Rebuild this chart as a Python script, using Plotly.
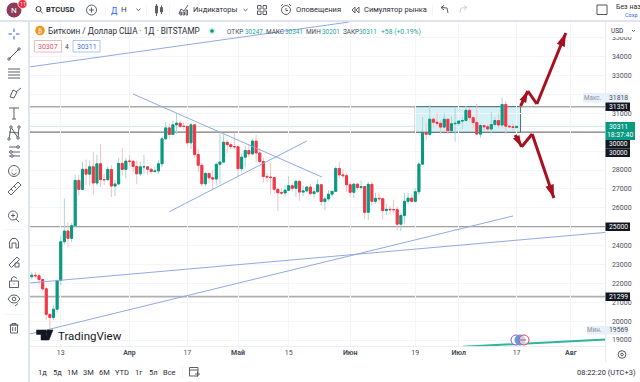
import math
import pandas as pd
import plotly.graph_objects as go

W, H = 640, 382
first_day = "2023-03-05"
open_ = [22350,22430,22400,22200,21710,20360,20190,20630,22150,24200,24770,24380,25050,27450,26970,28040,27780,28170,27310,28330,27490,27490,28030,27150,27260,28350,28030,
28470,28460,28190,27800,28170,28170,28040,27920,27950,28330,29650,30230,29880,30390,30480,30310,30310,29440,30390,28820,28250,27270,27820,27590,27520,28300,28420,29470,29340,29240,
29230,28070,28680,29030,28850,29530,28900,28450,27660,27630,27600,26980,26800,26780,26930,27170,27030,27400,26830,26890,27100,26750,26850,27220,26330,26470,26720,26870,28080,27740,27700,
27220,26820,27250,27070,27120,25760,27240,26340,26500,26480,25850,25920,25900,25900,25130,25590,26340,26510,26340,26850,28310,30000,29890,30690,30530,30470,30270,30690,30080,30450,
30470,30590,30620,31160,30770,30510,29900,30350,30290,30170,30410,30620,30380,31470,30320,30290,30247]
high = [22610,22600,22530,22270,21810,20370,20830,22200,24500,26500,25240,25200,27750,27730,28450,28550,28500,28950,28800,29380,27790,28200,28260,27500,28650,29170,28650,
28800,28530,28500,28450,28790,28190,28100,28170,28530,29770,30550,30480,30600,31000,30600,30560,30320,30480,30410,29090,28370,27880,27820,28000,28390,30020,29890,29590,29450,29970,
29340,28880,29270,29370,29680,29850,29170,28640,27830,28330,27640,27050,27040,27200,27660,27280,27480,27480,27180,27150,27280,27050,27500,27220,26600,26930,26910,28200,28450,28050,27830,
27340,27300,27320,27450,27140,27370,27400,26800,26780,26530,26200,26090,26440,26070,25740,26780,26790,26700,27040,28400,30800,30500,31430,30800,31050,30650,31000,30700,30830,31280,
30660,30800,31380,31330,30880,31510,30450,30390,30440,31060,30810,30990,31818,31640,30400,30460,30341]
low = [22210,22270,21930,21600,20050,19569,20050,20440,21910,24050,23900,24170,25000,26650,26900,27200,27170,26680,27160,27100,27200,27400,26570,26630,27200,27700,27530,
28250,27870,27250,27680,27800,27750,27780,27870,27800,28170,29600,29700,29880,29900,30230,30130,29260,29100,28650,27900,27130,27140,27350,26950,27200,27240,28380,28900,29100,29100,
27680,27880,28130,28680,28800,28420,28380,27340,27360,26720,26750,25810,26690,26580,26870,26850,26580,26370,26630,26850,26680,26540,26800,26110,25870,26340,26550,26870,27550,27570,26850,
26610,26510,26930,26960,25400,25370,26120,26210,26300,25380,25620,25640,25730,24800,24770,25170,26180,26290,26270,26670,28270,29600,29820,30270,30300,29930,30220,29900,30050,29500,
30330,30180,30570,30630,30220,29860,29700,30050,30070,29950,30300,30200,30250,29920,30250,30070,30201]
close = [22430,22400,22200,21710,20360,20190,20630,22150,24200,24770,24380,25050,27450,26970,28040,27780,28170,27310,28330,27490,27490,28030,27150,27260,28350,28030,28470,
28460,28190,27800,28170,28170,28040,27920,27950,28330,29650,30230,29880,30390,30480,30310,30310,29440,30390,28820,28250,27270,27820,27590,27520,28300,28420,29470,29340,29240,29230,
28070,28680,29030,28850,29530,28900,28450,27660,27630,27600,26980,26800,26780,26930,27170,27030,27400,26830,26890,27100,26750,26850,27220,26330,26470,26720,26870,28080,27740,27700,27220,
26820,27250,27070,27120,25760,27240,26340,26500,26480,25850,25920,25900,25900,25130,25590,26340,26510,26340,26850,28310,30000,29890,30690,30530,30470,30270,30690,30080,30450,30470,
30590,30620,31160,30770,30510,29900,30350,30290,30170,30410,30620,30380,31470,30320,30290,30250,30311]
n = min(len(open_), len(high), len(low), len(close))
open_, high, low, close = open_[:n], high[:n], low[:n], close[:n]
dates = pd.date_range(first_day, periods=n, freq="D")

price_ticks = [35000,34000,33000,32000,31000,29000,28000,27000,26000,24000,23000,22000,21000,20000,19000]
price_labels = ["35000","34000","33000","","31000","","28000","27000","26000","24000","23000","22000","21000","20000","19000"]
time_tick_dates = ["2023-03-13","2023-04-01","2023-04-17","2023-05-01","2023-05-15","2023-06-01","2023-06-19","2023-07-01","2023-07-17","2023-08-01"]
time_tick_text = ["13","<b>Апр</b>","17","<b>Май</b>","15","<b>Июн</b>","19","<b>Июл</b>","17","<b>Авг</b>"]
h_levels = [31351, 30000, 25000, 21299]
range_top, range_bottom = 31351, 30000
range_days = [106.0, 135.1]
trend_days = [[-0.77, 87.7], [27.97, 80.2], [38.0, 76.0], [-0.5, 133.0], [-0.64, 158.5]]
trend_prices = [[33453, 35835], [32023, 27629], [25792, 29535], [19318, 25565], [22018, 24696]]
teal_days, teal_prices = [119.2, 158.6], [18645, 19026]
up_days, up_prices = [135.1, 137.1, 139.6, 147.6], [31388, 32182, 31494, 35253]
down_days, down_prices = [133.6, 135.4, 138.3, 144.3], [29853, 29233, 29906, 26517]

TEAL, RED = "#089981", "#f23645"
TEAL_W, RED_W = "#a8d8d0", "#f5c0c6"
GRID = "#f3f5fa"
BAND = "#e0e3f0"
TXT = "#3a3e4a"
ICON = "#5d606b"
FONT = "Roboto"

def day(d):
    return pd.Timestamp(first_day) + pd.Timedelta(days=d)

def px(x): return x / W
def py(y): return 1 - y / H

shapes, annos = [], []

def rect(x0, y0, x1, y1, fill="rgba(0,0,0,0)", line=None, lw=1, layer="above"):
    shapes.append(dict(type="rect", xref="paper", yref="paper", x0=px(x0), x1=px(x1), y0=py(y0), y1=py(y1),
                       fillcolor=fill, line=dict(color=line or "rgba(0,0,0,0)", width=lw if line else 0), layer=layer))

def circ(cx, cy, r, fill="rgba(0,0,0,0)", line=None, lw=1):
    shapes.append(dict(type="circle", xref="paper", yref="paper", x0=px(cx-r), x1=px(cx+r), y0=py(cy-r), y1=py(cy+r),
                       fillcolor=fill, line=dict(color=line or "rgba(0,0,0,0)", width=lw if line else 0), layer="above"))

def poly(pts, color=ICON, lw=1, fill=None, close_it=False):
    p = "M " + " L ".join(f"{px(a):.5f} {py(b):.5f}" for a, b in pts) + (" Z" if close_it else "")
    shapes.append(dict(type="path", xref="paper", yref="paper", path=p, layer="above",
                       fillcolor=fill or "rgba(0,0,0,0)", line=dict(color=color, width=lw)))

def text(x, y, s, size=7.5, color=TXT, anchor="left", font=FONT):
    annos.append(dict(xref="paper", yref="paper", x=px(x), y=py(y), text=s, showarrow=False,
                      xanchor=anchor, yanchor="middle", font=dict(size=size, color=color, family=font),
                      borderpad=0, xshift=0, yshift=0))

fig = go.Figure()

# levels and range box, beneath candles
shapes.append(dict(type="rect", x0=day(range_days[0]), x1=day(range_days[1]), y0=range_bottom, y1=range_top,
                   xref="x", yref="y", fillcolor="#d6f1f6", line=dict(color="#4c6b70", width=1), layer="below"))
lvl_style = {31351: ("#ababab", 1.6), 30000: ("#7a7a7a", 1.3), 25000: ("#a0a0a0", 1.4), 21299: ("#b0b0b0", 1.8)}
for lv in h_levels:
    c, w = lvl_style[lv]
    shapes.append(dict(type="line", xref="x domain", yref="y", x0=0, x1=1, y0=lv, y1=lv, line=dict(color=c, width=w), layer="below"))
shapes.append(dict(type="line", xref="x domain", yref="y", x0=0, x1=1, y0=close[-1], y1=close[-1], line=dict(color="#cfe9e6", width=1), layer="below"))

# candles: pale wicks first, solid bodies on top
fig.add_trace(go.Candlestick(x=dates, open=open_, high=high, low=low, close=close, whiskerwidth=0,
    increasing=dict(line=dict(color=TEAL_W, width=1), fillcolor=TEAL_W),
    decreasing=dict(line=dict(color=RED_W, width=1), fillcolor=RED_W), showlegend=False, hoverinfo="skip"))
body_hi = [max(o, c) for o, c in zip(open_, close)]
body_lo = [min(o, c) for o, c in zip(open_, close)]
fig.add_trace(go.Candlestick(x=dates, open=open_, high=body_hi, low=body_lo, close=close, whiskerwidth=0,
    increasing=dict(line=dict(color=TEAL, width=1), fillcolor=TEAL),
    decreasing=dict(line=dict(color=RED, width=1), fillcolor=RED), showlegend=False, hoverinfo="skip"))

# trend lines
for ds, ps in zip(trend_days, trend_prices):
    fig.add_trace(go.Scatter(x=[day(d) for d in ds], y=ps, mode="lines", line=dict(color="#92a9e2", width=1),
                             showlegend=False, hoverinfo="skip", cliponaxis=True))
fig.add_trace(go.Scatter(x=[day(d) for d in teal_days], y=teal_prices, mode="lines", line=dict(color="#2fb49c", width=2),
                         showlegend=False, hoverinfo="skip"))
# red arrows: each leg is its own trace, legs 1 and 3 end in a head
for ds, ps in [(up_days, up_prices), (down_days, down_prices)]:
    for i in range(3):
        seg_x = [day(ds[i]), day(ds[i + 1])]
        seg_y = [ps[i], ps[i + 1]]
        fig.add_trace(go.Scatter(x=seg_x, y=seg_y, mode="lines", line=dict(color="#a8101f", width=3),
                                 showlegend=False, hoverinfo="skip"))
        if i != 1:
            fig.add_trace(go.Scatter(x=seg_x, y=seg_y, mode="markers",
                marker=dict(symbol="arrow", angleref="previous", size=[1, 12 if i == 0 else 14], color="#a8101f",
                            opacity=[0, 1], line=dict(width=0)),
                showlegend=False, hoverinfo="skip"))

# chrome: toolbars
rect(0, 0, W, 20.5, fill="white")
rect(0, 20, W, 22, fill=BAND)
rect(28, 20, 30, H, fill=BAND)
rect(0, 22, 28, H, fill="white")
rect(605.5, 346.5, W, H, fill="white")
rect(30, 362, W, H, fill="white")
rect(605, 22, 605.8, 362, fill="#e3e6ee")
rect(30, 346.3, 606, 346.9, fill="#e6e8ef")

# avatar
circ(14, 10, 7.5, fill="#8c3c58")
text(14, 10.5, "N", 8, "white", "center")
circ(22.5, 4, 4.5, fill="#f0283c", line="white", lw=0.8)
text(22.5, 4.2, "11", 5.5, "white", "center")
# search
circ(38.5, 9, 2.5, line="#333", lw=1)
poly([(40.5, 11), (42.5, 13)], "#333", 1)
text(45, 10, "<b>BTCUSD</b>", 7.5, "#2a2e39")
# plus
circ(91.5, 10, 5, line=ICON)
poly([(89, 10), (94, 10)]); poly([(91.5, 7.5), (91.5, 12.5)])
rect(105.5, 5, 106, 15, fill="#e6e8ef")
text(114, 10.5, "Д", 8.5, "#2962ff", "center")
text(123.5, 10, "Н", 8, TXT, "center")
poly([(136.5, 8.8), (138.5, 10.5), (140.5, 8.8)])
rect(146, 5, 146.5, 15, fill="#e6e8ef")
# candle icon
rect(155.5, 6, 157.5, 13, line=ICON); poly([(156.5, 4), (156.5, 16)])
rect(160.5, 7.5, 162.5, 12, line=ICON); poly([(161.5, 5.5), (161.5, 14)])
rect(169, 5, 169.5, 15, fill="#e6e8ef")
# indicator icon
poly([(179, 14), (181, 9), (184, 11), (188, 5)], ICON)
rect(180, 12, 181.5, 15, line=ICON); rect(183, 12, 184.5, 15, line=ICON); rect(186, 10, 187.5, 15, line=ICON)
text(192, 10, "Индикаторы", 7.5, "#2a2e39")
poly([(243.5, 9), (245.5, 10.8), (247.5, 9)])
for gx in (257.5, 263):
    for gy in (5.5, 11):
        rect(gx, gy, gx + 3.5, gy + 3.5, line=ICON)
# alert
circ(286, 10, 4.5, line=ICON)
poly([(281, 6), (283, 4)]); poly([(291, 6), (289, 4)]); poly([(286, 8), (286, 10.5), (288, 10.5)])
text(295, 10, "Оповещения", 7.5, "#2a2e39")
poly([(355, 7), (352, 10), (355, 13), (355, 7)], ICON); poly([(359, 7), (356, 10), (359, 13), (359, 7)], ICON)
text(363, 10, "Симулятор рынка", 7.5, "#2a2e39")
rect(432, 5, 432.5, 15, fill="#e6e8ef")
poly([(441, 7.5), (444, 5.5)], ICON); poly([(441, 7.5), (444, 10)], ICON); poly([(441, 7.5), (447, 8), (448, 13)], ICON)
poly([(467, 7.5), (464, 5.5)], "#d0d3da"); poly([(467, 7.5), (464, 10)], "#d0d3da"); poly([(467, 7.5), (461, 8), (460, 13)], "#d0d3da")
rect(597, 5, 607, 14.5, line="#555", lw=1)
text(614.5, 7.5, "Без наз", 7, "#2a2e39")
text(624, 14.5, "Сохр", 5.5, "#2962ff")

# left tool icons
c = ICON
poly([(14, 28.5), (14, 32)], "#2962ff"); poly([(14, 36), (14, 39.5)], "#2962ff")
poly([(8.5, 34), (12, 34)], "#2962ff"); poly([(16, 34), (19.5, 34)], "#2962ff")
poly([(9, 59), (19, 49)], c); circ(9, 59, 1.2, line=c); circ(19, 49, 1.2, line=c)
for yy in (69, 72, 75, 78):
    poly([(8, yy), (20, yy)], c)
poly([(10, 97), (13, 90), (17, 92), (14, 98), (10, 97)], c); poly([(16, 92), (21, 88)], c)
poly([(9, 108), (19, 108)], c); poly([(14, 108), (14, 119)], c); poly([(12, 119), (16, 119)], c)
poly([(9, 139), (11, 127), (18, 138), (19, 127)], c); poly([(9, 132), (19, 133)], c)
for q in [(9,139,),(11,127),(18,138),(19,127)]:
    circ(q[0], q[1], 1.2, line=c, fill="white")
poly([(9, 147), (20, 147)], c); poly([(9, 152), (20, 152)], c); poly([(9, 156), (20, 156)], c)
circ(11, 152, 1.3, line=c, fill="white"); circ(18, 147, 1.3, line=c, fill="white"); circ(12, 156, 1.3, line=c, fill="white")
circ(14, 171, 5.5, line=c); circ(12, 170, 0.5, fill=c); circ(16, 170, 0.5, fill=c); poly([(11.5, 173), (14, 175), (16.5, 173)], c)
poly([(8, 192), (18, 182), (21, 185), (11, 195), (8, 192)], c)
poly([(11, 189), (13, 191)], c); poly([(14, 186), (16, 188)], c)
circ(13, 215.5, 4.5, line=c); poly([(16, 219), (19, 222)], c); poly([(11, 215.5), (15, 215.5)], c); poly([(13, 213.5), (13, 217.5)], c)
rect(5, 229, 23, 229.5, fill="#e6e8ef")
poly([(9.5, 248), (9.5, 242), (12, 238.5), (16, 238.5), (18.5, 242), (18.5, 248), (16, 248), (16, 243), (12, 243), (12, 248), (9.5, 248)], c)
poly([(9, 265), (17, 257), (19.5, 259.5), (11.5, 267.5), (9, 265)], c); rect(15, 263, 19, 267, line=c)
rect(9.5, 281, 18.5, 287.5, line=c); poly([(11.5, 281), (11.5, 278), (14, 276.5), (17, 278.5)], c)
circ(14, 284, 0.6, fill=c)
poly([(8, 299), (11, 295.5), (14, 295), (17, 295.5), (20, 299), (17, 302.5), (14, 303), (11, 302.5), (8, 299)], c); circ(14, 299, 1.8, line=c)
poly([(15, 306), (18, 303.5)], c)
rect(5, 314, 23, 314.5, fill="#e6e8ef")
rect(10.5, 325, 17.5, 333, line=c); poly([(9.5, 325), (18.5, 325)], c); poly([(12, 325), (12, 323.5), (16, 323.5), (16, 325)], c)
poly([(12.7, 327), (12.7, 331)], c); poly([(15.3, 327), (15.3, 331)], c)

# legend line
circ(40, 30.5, 4.8, fill="#f7931a")
text(40, 30.5, "₿", 6, "white", "center", "DejaVu Sans")
text(47, 31, "Биткоин / Доллар США · 1Д · BITSTAMP", 8.2, "#2a2e39")
circ(212, 31, 3.5, fill="#d5efe9"); circ(212, 31, 1.8, fill=TEAL)
for x0, lbl, x1, val in [(225.5, "ОТКР", 244, "30247"), (265, "МАКС", 284, "30341"), (304.5, "МИН", 320.5, "30201"), (341.5, "ЗАКР", 358, "30311")]:
    text(x0, 31.5, lbl, 6.4, "#4a4e5a")
    text(x1, 31.5, val, 6.4, "#26a69a")
text(380, 31.5, "+58 (+0.19%)", 6.8, "#26a69a")
rect(34.5, 40.5, 61.5, 52, fill="white", line="#e6a8ae", lw=0.8)
text(48, 46.5, "30307", 7, "#e0525f", "center")
text(67, 46.5, "4", 6.5, TXT, "center")
rect(73, 40.5, 100, 52, fill="white", line="#9ab5e8", lw=0.8)
text(86.5, 46.5, "30311", 7, "#3f6fd8", "center")

# price axis tags
rect(608, 24, 638, 37, fill="white")
text(610, 31, "USD", 6.5, "#2a2e39")
poly([(632, 30), (633.5, 31.5), (635, 30)], "#555")
rect(583, 93, 628.5, 102.5, fill="#e8f0fb")
text(603, 98, "Макс.", 6.3, "#8a8f9c", "right")
text(618.5, 98, "31818", 6.8, "#4a4e5a", "center")
rect(605.5, 102.5, 630, 111, fill="#131722")
text(618, 106.8, "31351", 6.8, "white", "center")
rect(605.5, 122, 635, 140, fill=TEAL)
text(618, 127, "30311", 6.8, "white", "center")
text(620, 135, "18:37:40", 6.8, "white", "center")
rect(605.5, 140, 630, 148.5, fill="#131722")
text(618, 144.3, "30000", 6.6, "white", "center")
rect(605.5, 148.5, 630, 157, fill="#131722")
text(618, 153, "30000", 6.6, "white", "center")
rect(605.5, 222.5, 630, 231, fill="#131722")
text(618, 227, "25000", 6.8, "white", "center")
rect(605.5, 292.5, 630, 301, fill="#131722")
text(618, 296.7, "21299", 6.8, "white", "center")
rect(587, 326, 628.5, 334.5, fill="#e8f0fb")
text(603, 330.3, "Мин.", 6.3, "#8a8f9c", "right")
text(618.5, 330.3, "19569", 6.8, "#4a4e5a", "center")
circ(622, 354.5, 3.8, line="#555"); circ(622, 354.5, 1.3, line="#555")

# events badges
circ(516, 340, 5, fill="white", line="#a04fd0", lw=1)
circ(520, 340, 5, fill="#5b9be6", line="#5b9be6", lw=1)
circ(524, 340, 5, fill="rgba(255,255,255,0.6)", line="#ee4455", lw=1)
poly([(520, 340), (526, 340)], "#ee4455", 1)

# watermark logo
poly([(36.5, 330), (46, 330), (46, 340), (41, 340), (41, 334.5), (36.5, 334.5)], "#131722", 0.5, "#131722", True)
poly([(47, 330), (53, 330), (49, 340), (45.5, 340)], "#131722", 0.5, "#131722", True)
circ(47.5, 332, 1.6, fill="#131722")
text(57, 335.5, "TradingView", 11.5, "#131722")

# range buttons
for x0, s in zip([42, 57, 72, 88, 104, 122, 139, 153, 169], ["1д", "5д", "1М", "3М", "6М", "YTD", "1г", "5л", "Все"]):
    text(x0, 372, s, 7.5, "#2a2e39", "center")
rect(182, 366, 182.5, 378, fill="#e6e8ef")
rect(189.5, 367.5, 198, 376, line=ICON); poly([(189.5, 370), (198, 370)]); poly([(195, 374), (200, 374)]); poly([(197.5, 371.5), (197.5, 376.5)])
text(637, 372, "08:22:20 (UTC+3)", 7.5, "#2a2e39", "right")

xmin = day((29.5 - 31.8) / 3.618)
xmax = day((605.5 - 31.8) / 3.618)
ytop = 19000 + (340 - 21) / 0.018889
ybot = 19000 + (340 - 346.5) / 0.018889

fig.update_layout(
    width=W, height=H, autosize=False, margin=dict(l=0, r=0, t=0, b=0, pad=0),
    paper_bgcolor="white", plot_bgcolor="white", showlegend=False,
    shapes=shapes, annotations=annos,
    boxgap=0.2,
    font=dict(family=FONT, color=TXT, size=8),
    xaxis=dict(domain=[px(29.5), px(605.5)], range=[xmin, xmax], type="date", rangeslider=dict(visible=False),
               tickmode="array", tickvals=time_tick_dates, ticktext=time_tick_text, showgrid=True, gridcolor=GRID, gridwidth=1,
               ticks="", tickfont=dict(size=7, color="#4a4e5a"), zeroline=False, showline=False, fixedrange=True),
    yaxis=dict(domain=[py(346.5), py(21)], range=[ybot, ytop], side="right", tickmode="array", tickvals=price_ticks,
               ticktext=price_labels, showgrid=True, gridcolor=GRID, gridwidth=1, ticks="outside", ticklen=4,
               tickcolor="rgba(0,0,0,0)", tickfont=dict(size=7, color="#4a4e5a"), zeroline=False, showline=False, fixedrange=True),
)

fig.write_html("out.html", config=dict(displayModeBar=False, staticPlot=True),
               post_script="document.body.style.margin='0';document.body.style.overflow='hidden';")
